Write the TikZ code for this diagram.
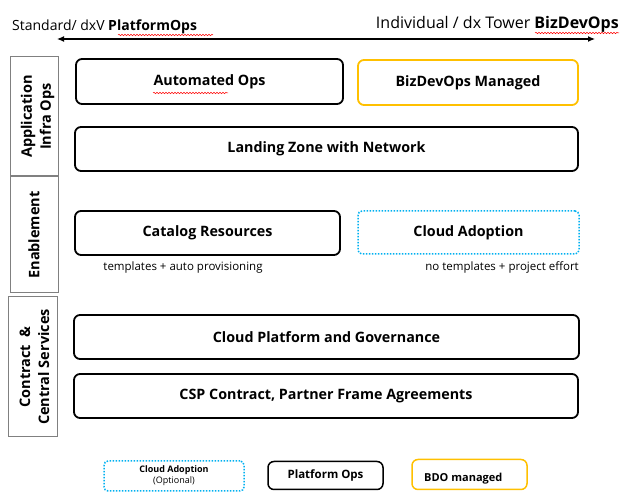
\documentclass[tikz,border=0pt]{standalone}
\usepackage{fontspec}
\setmainfont{Open Sans}
\usetikzlibrary{arrows.meta,decorations.pathmorphing}
\definecolor{bdo}{HTML}{FFC000}
\definecolor{cab}{HTML}{00B0F0}
\definecolor{lbl}{HTML}{808080}
\tikzset{
  box/.style={draw=black, line width=1.8pt, rounded corners=6pt, inner sep=0pt, font=\fontsize{14.3}{16}\selectfont\bfseries},
  bdobox/.style={box, draw=bdo},
  cabox/.style={box, draw=cab, line width=1.5pt, dash pattern=on 1.5pt off 1.5pt, rounded corners=4pt},
  sidebox/.style={draw=lbl, line width=1pt, inner sep=0pt},
  sidetxt/.style={rotate=90, align=center, font=\fontsize{14.5}{19}\selectfont\bfseries},
  note/.style={font=\fontsize{11.5}{13}\selectfont, inner sep=0pt},
  legtxt/.style={font=\fontsize{9}{11}\selectfont\bfseries, inner sep=0pt, align=center},
  squig/.style={draw=red, line width=0.5pt, decorate, decoration={snake, amplitude=0.7pt, segment length=3pt}},
  both/.style={{Latex[length=7pt,width=6pt]}-{Latex[length=7pt,width=6pt]}, line width=1.2pt}
}
\begin{document}
\begin{tikzpicture}[x=1pt,y=-1pt]
\useasboundingbox (0,0) rectangle (627,502);
% top labels
\node[anchor=base west, inner sep=0pt, font=\fontsize{14}{16}\selectfont] (tl) at (12,31) {Standard/ dxV \textbf{PlatformOps}};
\node[anchor=base east, inner sep=0pt, font=\fontsize{16}{18}\selectfont] (tr) at (619,29) {Individual / dx Tower \textbf{BizDevOps}};
\coordinate (al) at (57,39);
\coordinate (ar) at (595,39);
\draw[both] (al) -- (ar);
% side labels
\node[sidebox, minimum width=48pt, minimum height=119pt] (app) at (34,116.5) {};
\node[sidetxt] (appt) at (37.5,116.5) {Application\\Infra Ops};
\node[sidebox, minimum width=48pt, minimum height=116pt] (en) at (34,235) {};
\node[sidetxt] (ent) at (en.center) {Enablement};
\node[sidebox, minimum width=49pt, minimum height=140pt] (cs) at (32.5,367) {};
\node[sidetxt] (cst) at (34.5,367) {Contract~~\&\\Central Services};
% main boxes
\node[box, minimum width=267pt, minimum height=45pt] (auto) at (209.5,81.5) {Automated Ops};
\node[bdobox, minimum width=220pt, minimum height=45pt] (bdom) at (468,82.5) {BizDevOps Managed};
\node[box, minimum width=503pt, minimum height=44pt] (lz) at (326.5,149) {Landing Zone with Network};
\node[box, minimum width=265pt, minimum height=44pt] (cat) at (207.5,233) {Catalog Resources};
\node[cabox, minimum width=221pt, minimum height=43pt] (ca) at (468.5,232.5) {Cloud Adoption};
\node[note, anchor=base] (catn) at (183,271) {templates + auto provisioning};
\node[note, anchor=base east] (can) at (579,271) {no templates + project effort};
\node[box, minimum width=505pt, minimum height=44pt] (cpg) at (326.5,337) {Cloud Platform and Governance};
\node[box, minimum width=504pt, minimum height=44pt] (csp) at (326,396) {CSP Contract, Partner Frame Agreements};
% legend
\node[cabox, minimum width=140pt, minimum height=30pt] (lca) at (174,476) {};
\node[legtxt] (lcat) at (lca.center) {Cloud Adoption\\\mdseries(Optional)};
\node[box, line width=1.5pt, minimum width=115pt, minimum height=28pt, font=\fontsize{11.5}{13}\selectfont\bfseries] (lpo) at (325.5,475.5) {Platform Ops};
\node[bdobox, line width=1.5pt, minimum width=115pt, minimum height=30pt] (lbdo) at (469.5,474.5) {};
\node[legtxt, anchor=west, font=\fontsize{11}{12}\selectfont\bfseries] (lbdot) at (424,479) {BDO managed};
% spell-check marks
\draw[squig] (118,35) -- (213,35);
\draw[squig] (535,33) -- (619,33);
\draw[squig] (153,93) -- (228,93);
\end{tikzpicture}
\end{document}
